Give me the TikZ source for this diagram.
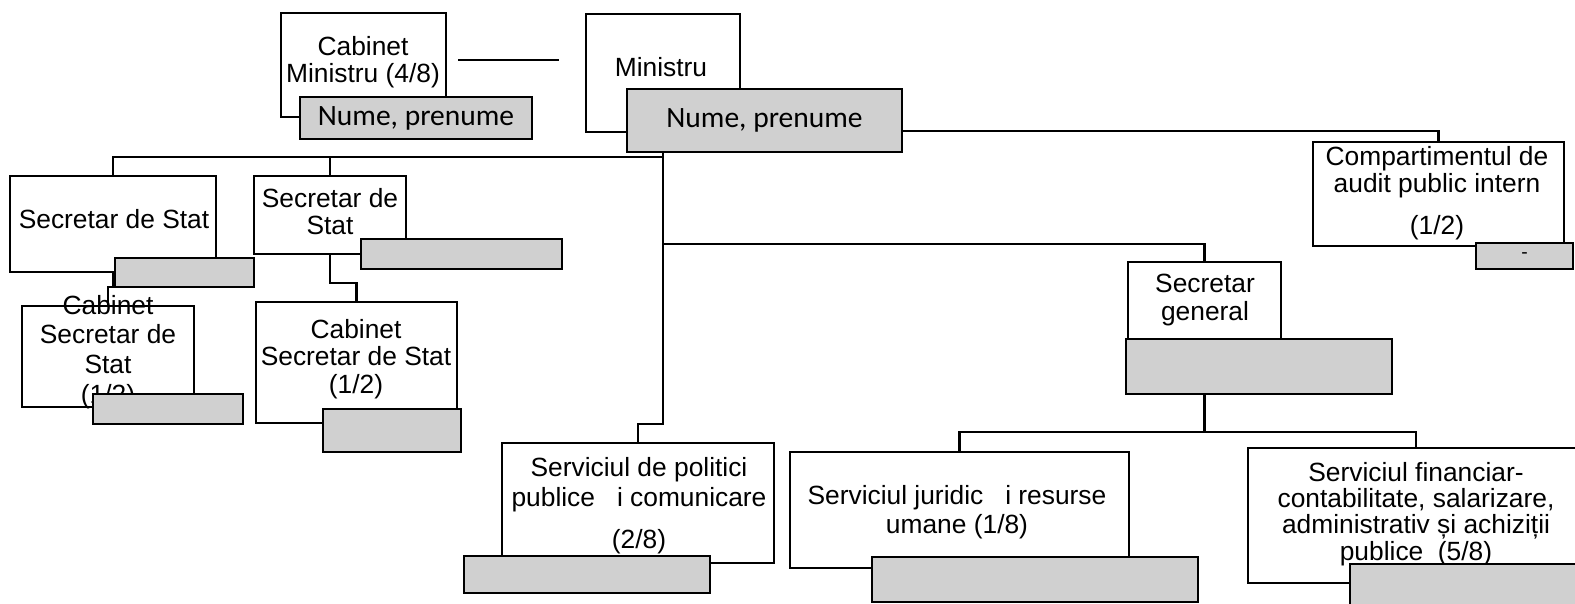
\documentclass[tikz,border=0pt]{standalone}
\usepackage{fontspec}
\setmainfont{Liberation Sans}
\newfontfamily\namefont{Carlito}
\usetikzlibrary{backgrounds}
\definecolor{namegray}{RGB}{208,208,208}

\begin{document}
\begin{tikzpicture}[x=0.02cm,y=-0.02cm,
	unitbox/.style={draw,fill=white,line width=1.2pt,inner sep=0pt,outer sep=0pt},
	namebox/.style={draw,fill=namegray,line width=1.2pt,inner sep=0pt,outer sep=0pt,font=\namefont\fontsize{16.8}{18}\selectfont},
	unittext/.style={align=center,inner sep=0pt,font=\fontsize{15}{15.5}\selectfont},
	link/.style={line width=1.2pt}]
	
	\useasboundingbox (0,0) rectangle (1575,603);
	\clip (0,0) rectangle (1575,603);
	
	% Ministru and cabinet
	\node[unitbox,minimum width=3.30cm,minimum height=2.08cm] (cabmin) at (363.5,65) {};
	\node[unittext] (cabmintext) at (363,62) {Cabinet\\Ministru (4/8)};
	\node[namebox,minimum width=4.64cm,minimum height=0.84cm] (cabminname) at (416,118) {Nume, prenume};
	
	\node[unitbox,minimum width=3.08cm,minimum height=2.36cm] (min) at (663,73) {};
	\node[unittext] (mintext) at (661,67) {Ministru};
	\node[namebox,minimum width=5.50cm,minimum height=1.26cm] (minname) at (764.5,120.5) {Nume, prenume};
	
	% Secretari de stat
	\node[unitbox,minimum width=4.12cm,minimum height=1.92cm] (ss1) at (113,224) {};
	\node[unittext] (ss1text) at (114,219) {Secretar de Stat};
	\node[namebox,minimum width=2.78cm,minimum height=0.58cm] (ss1name) at (184.5,272.5) {};
	
	\node[unitbox,minimum width=3.04cm,minimum height=1.56cm] (ss2) at (330,215) {};
	\node[unittext] (ss2text) at (330,211.5) {Secretar de\\Stat};
	\node[namebox,minimum width=4.02cm,minimum height=0.60cm] (ss2name) at (461.5,254) {};
	
	% Cabinete secretari de stat
	\node[unitbox,minimum width=3.44cm,minimum height=2.02cm] (cabss1) at (108,356.5) {};
	\node[unittext,font=\fontsize{15}{17}\selectfont] (cabss1text) at (108,352) {Cabinet\\Secretar de\\Stat\\(1/2)};
	\node[namebox,minimum width=3.00cm,minimum height=0.60cm] (cabss1name) at (168,409) {};
	
	\node[unitbox,minimum width=4.02cm,minimum height=2.42cm] (cabss2) at (356.5,362.5) {};
	\node[unittext] (cabss2text) at (356,359) {Cabinet\\Secretar de Stat\\(1/2)};
	\node[namebox,minimum width=2.76cm,minimum height=0.86cm] (cabss2name) at (392,430.5) {};
	
	% Audit
	\node[unitbox,minimum width=5.02cm,minimum height=2.08cm] (audit) at (1438.5,194) {};
	\node[unittext] (audittext) at (1437,193) {Compartimentul de\\audit public intern\\[8pt](1/2)};
	\node[namebox,minimum width=1.94cm,minimum height=0.52cm,font=\fontsize{11}{13}\selectfont] (auditname) at (1524.5,256) {-};
	
	% Secretar general
	\node[unitbox,minimum width=3.06cm,minimum height=1.54cm] (sg) at (1204.5,300.5) {};
	\node[unittext,font=\fontsize{15}{16}\selectfont] (sgtext) at (1205,300) {Secretar\\general};
	\node[namebox,minimum width=5.32cm,minimum height=1.10cm] (sgname) at (1259,366.5) {};
	
	% Servicii
	\node[unitbox,minimum width=5.44cm,minimum height=2.40cm] (pol) at (638,503) {};
	\node[unittext,font=\fontsize{15}{17}\selectfont] (poltext) at (639,506) {Serviciul de politici\\publice\ \ \ i comunicare\\[7pt](2/8)};
	\node[namebox,minimum width=4.92cm,minimum height=0.74cm] (polname) at (587,574.5) {};
	
	\node[unitbox,minimum width=6.78cm,minimum height=2.32cm] (jur) at (959.5,510) {};
	\node[unittext,font=\fontsize{15}{16.4}\selectfont] (jurtext) at (957,512.5) {Serviciul juridic\ \ \ i resurse\\umane (1/8)};
	\node[namebox,minimum width=6.52cm,minimum height=0.90cm] (jurname) at (1035,579.5) {};
	
	\node[unitbox,minimum width=6.72cm,minimum height=2.70cm] (fin) at (1416,515.5) {};
	\node[unittext,font=\fontsize{15}{14.9}\selectfont] (fintext) at (1416,514) {Serviciul financiar-\\contabilitate, salarizare,\\administrativ și achiziții\\publice\ \ (5/8)};
	\node[namebox,minimum width=5.00cm,minimum height=0.96cm] (finname) at (1475,588) {};
	
	% Connection lines
	\coordinate (cabl) at (458,60);
	\coordinate (cabr) at (559,60);
	\coordinate (busss) at (663,157);
	\coordinate (bussg) at (663,244);
	
	\begin{scope}[on background layer]
		\draw[link] (cabl) -- (cabr);
		\draw[link] (min.south) -- ++(0,292) -| (pol.north);
		\draw[link] (busss) -| (ss1.north);
		\draw[link] (busss) -| (ss2.north);
		\draw[link] (bussg) -| (sg.north);
		\draw[link] ([yshift=-0.21cm]minname.east) -| (audit.north);
		\draw[link] (ss1.south) -- ++(0,15) -| (cabss1.north);
		\draw[link] (ss2.south) -- ++(0,29) -| (cabss2.north);
		\draw[link] (sg.south) -- ++(0,93) -| (jur.north);
		\draw[link] (sg.south) -- ++(0,93) -| (fin.north);
	\end{scope}
	
\end{tikzpicture}
\end{document}
